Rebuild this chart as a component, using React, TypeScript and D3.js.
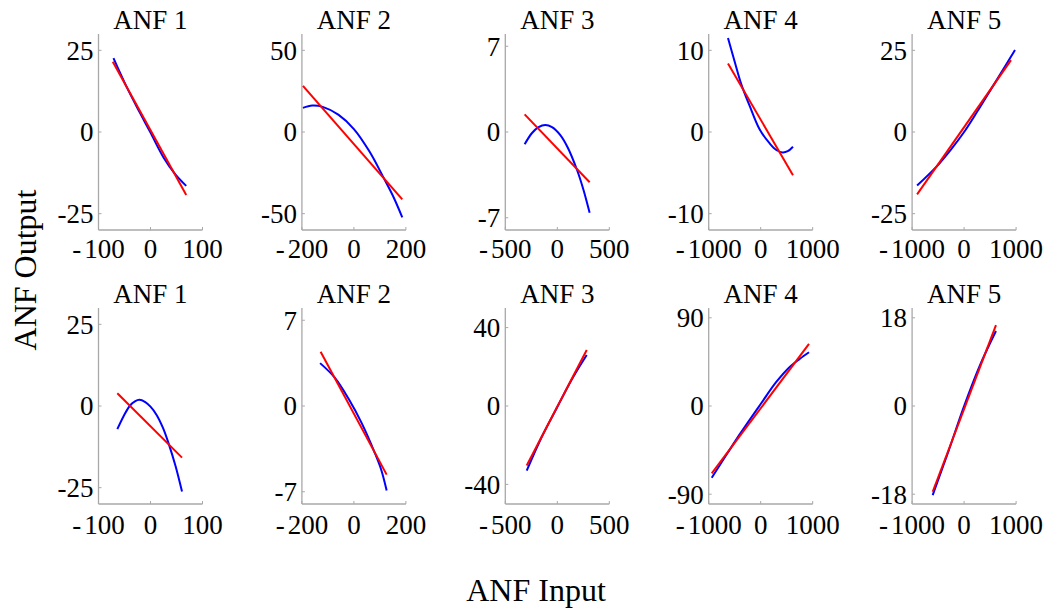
import React from "react";
import * as d3 from "d3";

type Pt = [number, number];

// ---------- data ----------
const titles = ["ANF 1", "ANF 2", "ANF 3", "ANF 4", "ANF 5"];
const xLimits = [100, 200, 500, 1000, 1000];
const xTickValues = [
  [-100, 0, 100],
  [-200, 0, 200],
  [-500, 0, 500],
  [-1000, 0, 1000],
  [-1000, 0, 1000],
];
const yLimitsTop = [30, 60, 8, 12, 30];
const yTickTop = [25, 50, 7, 10, 25];
const yLimitsBottom = [30, 8, 50, 100, 20];
const yTickBottom = [25, 7, 40, 90, 18];

// top row: ANF output curves (blue) and linear fits (red)
const blueTop1: Pt[] = [[-71.2, 22.6], [-45, 13.5], [-20, 5.8], [0, -0.2], [25, -7.8], [47, -12.8], [68.7, -16.5]];
const redTop1: Pt[] = [[-72.5, 21.5], [68.7, -19.3]];
const blueTop2: Pt[] = [[-196, 14.8], [-160, 16.2], [-120, 15.4], [-60, 10.6], [0, 1.8], [60, -12], [111, -27], [150, -39], [186, -52.2]];
const redTop2: Pt[] = [[-196, 28.2], [186, -41.2]];
const blueTop3: Pt[] = [[-314, -1.0], [-243, -0.08], [-180, 0.4], [-115, 0.57], [-51, 0.4], [29, -0.25], [100, -1.26], [189, -3.08], [250, -4.67], [311, -6.6]];
const redTop3: Pt[] = [[-314, 1.44], [311, -4.1]];
const blueTop4: Pt[] = [[-629, 11.5], [-500, 8.6], [-371, 5.8], [-212, 3.2], [-19, 0.3], [173, -1.4], [300, -2.2], [420, -2.5], [520, -2.35], [621, -1.8]];
const redTop4: Pt[] = [[-629, 8.4], [621, -5.3]];
const blueTop5: Pt[] = [[-904, -16.4], [-531, -10.6], [-250, -5.3], [0, 0], [250, 6.2], [432, 10.9], [700, 17.8], [979, 25.1]];
const redTop5: Pt[] = [[-904, -19.1], [902, 22.0]];

// bottom row
const blueBot1: Pt[] = [[-63.8, -7.1], [-52, -3.2], [-40, 0], [-30, 1.4], [-21.5, 1.9], [-10, 1.2], [0, -0.2], [12, -2.8], [24, -6.7], [34.3, -11.2], [48, -18.3], [60.6, -26.2]];
const redBot1: Pt[] = [[-63.8, 3.9], [60.6, -15.8]];
const blueBot2: Pt[] = [[-130, 3.5], [-73, 2.3], [-21.5, 0.63], [30, -1.4], [81, -3.86], [105, -5.2], [126, -6.9]];
const redBot2: Pt[] = [[-128, 4.43], [126, -5.6]];
const blueBot3: Pt[] = [[-294, -33], [-150, -15.8], [0, -0.5], [150, 14.5], [283, 26]];
const redBot3: Pt[] = [[-294, -30.4], [283, 28.6]];
const blueBot4: Pt[] = [[-942, -73.2], [-650, -49], [-398, -28.5], [0, 2], [300, 24.5], [563, 40.1], [750, 48], [929, 54.8]];
const redBot4: Pt[] = [[-942, -68.7], [929, 63.3]];
const blueBot5: Pt[] = [[-604, -18.2], [-300, -9.2], [0, 0], [300, 8.2], [613, 15.3]];
const redBot5: Pt[] = [[-604, -17.5], [613, 16.5]];

const blueTop = [blueTop1, blueTop2, blueTop3, blueTop4, blueTop5];
const redTop = [redTop1, redTop2, redTop3, redTop4, redTop5];
const blueBot = [blueBot1, blueBot2, blueBot3, blueBot4, blueBot5];
const redBot = [redBot1, redBot2, redBot3, redBot4, redBot5];

const xAxisLabel = "ANF Input";
const yAxisLabel = "ANF Output";

// ---------- layout ----------
const W = 1060;
const H = 613;
const FONT = "'Liberation Serif', 'Times New Roman', Times, serif";
const panelLeft0 = 98.5;
const panelStep = 203.4;
const panelW = 104;
const panelH = 196;
const rowTops = [34, 308];
const xLabelOffsets = [27.5, 29.5];
const axisColor = "#a8a8a8";

function fmt(v: number) {
  return String(Math.abs(v));
}

function Panel(props: {
  left: number;
  top: number;
  labelOffset: number;
  title: string;
  xLim: number;
  xTicks: number[];
  yLim: number;
  yTick: number;
  blue: Pt[];
  red: Pt[];
}) {
  const { left, top, labelOffset, title, xLim, xTicks, yLim, yTick, blue, red } = props;
  const x = d3.scaleLinear().domain([-xLim, xLim]).range([left, left + panelW]);
  const y = d3.scaleLinear().domain([-yLim, yLim]).range([top + panelH, top]);
  const bottom = top + panelH;
  const curve = d3
    .line<Pt>()
    .x((d) => x(d[0]))
    .y((d) => y(d[1]))
    .curve(d3.curveCatmullRom.alpha(0.5));
  const straight = d3
    .line<Pt>()
    .x((d) => x(d[0]))
    .y((d) => y(d[1]));
  const yTicks = [-yTick, 0, yTick];
  return (
    <g>
      <text
        x={left + panelW / 2}
        y={top - 5}
        textAnchor="middle"
        fontSize={27}
        fontFamily={FONT}
        fill="#000"
      >
        {title}
      </text>
      <line x1={left} y1={top} x2={left} y2={bottom} stroke={axisColor} strokeWidth={1.3} />
      <line x1={left} y1={bottom} x2={left + panelW} y2={bottom} stroke={axisColor} strokeWidth={1.3} />
      {xTicks.map((t) => (
        <g key={"xt" + t}>
          <line x1={x(t)} y1={bottom} x2={x(t)} y2={bottom - 3} stroke={axisColor} strokeWidth={1} />
          <text
            x={x(t)}
            y={bottom + labelOffset}
            textAnchor="middle"
            fontSize={27}
            fontFamily={FONT}
            fill="#000"
          >
            {t < 0 ? (
              <>
                <tspan>-</tspan>
                <tspan dx={3}>{fmt(t)}</tspan>
              </>
            ) : (
              fmt(t)
            )}
          </text>
        </g>
      ))}
      {yTicks.map((t) => (
        <g key={"yt" + t}>
          <line x1={left} y1={y(t)} x2={left + 3} y2={y(t)} stroke={axisColor} strokeWidth={1} />
          <text
            x={left - 5}
            y={y(t)}
            dy="0.35em"
            textAnchor="end"
            fontSize={27}
            fontFamily={FONT}
            fill="#000"
          >
            {t < 0 ? "-" + fmt(t) : fmt(t)}
          </text>
        </g>
      ))}
      <path d={curve(blue) || ""} fill="none" stroke="#0000ff" strokeWidth={2} />
      <path d={straight(red) || ""} fill="none" stroke="#ff0000" strokeWidth={2} />
    </g>
  );
}

export default function App() {
  return (
    <svg
      width={W}
      height={H}
      viewBox={`0 0 ${W} ${H}`}
      style={{ position: "absolute", left: 0, top: 0, background: "#fff", display: "block" }}
    >
      <rect x={0} y={0} width={W} height={H} fill="#fff" />
      {titles.map((t, i) => (
        <Panel
          key={"top" + i}
          left={panelLeft0 + i * panelStep}
          top={rowTops[0]}
          labelOffset={xLabelOffsets[0]}
          title={t}
          xLim={xLimits[i]}
          xTicks={xTickValues[i]}
          yLim={yLimitsTop[i]}
          yTick={yTickTop[i]}
          blue={blueTop[i]}
          red={redTop[i]}
        />
      ))}
      {titles.map((t, i) => (
        <Panel
          key={"bot" + i}
          left={panelLeft0 + i * panelStep}
          top={rowTops[1]}
          labelOffset={xLabelOffsets[1]}
          title={t}
          xLim={xLimits[i]}
          xTicks={xTickValues[i]}
          yLim={yLimitsBottom[i]}
          yTick={yTickBottom[i]}
          blue={blueBot[i]}
          red={redBot[i]}
        />
      ))}
      <text x={536} y={601} textAnchor="middle" fontSize={32} fontFamily={FONT} fill="#000">
        {xAxisLabel}
      </text>
      <text
        transform="translate(36,270) rotate(-90)"
        textAnchor="middle"
        fontSize={32}
        fontFamily={FONT}
        fill="#000"
      >
        {yAxisLabel}
      </text>
    </svg>
  );
}
